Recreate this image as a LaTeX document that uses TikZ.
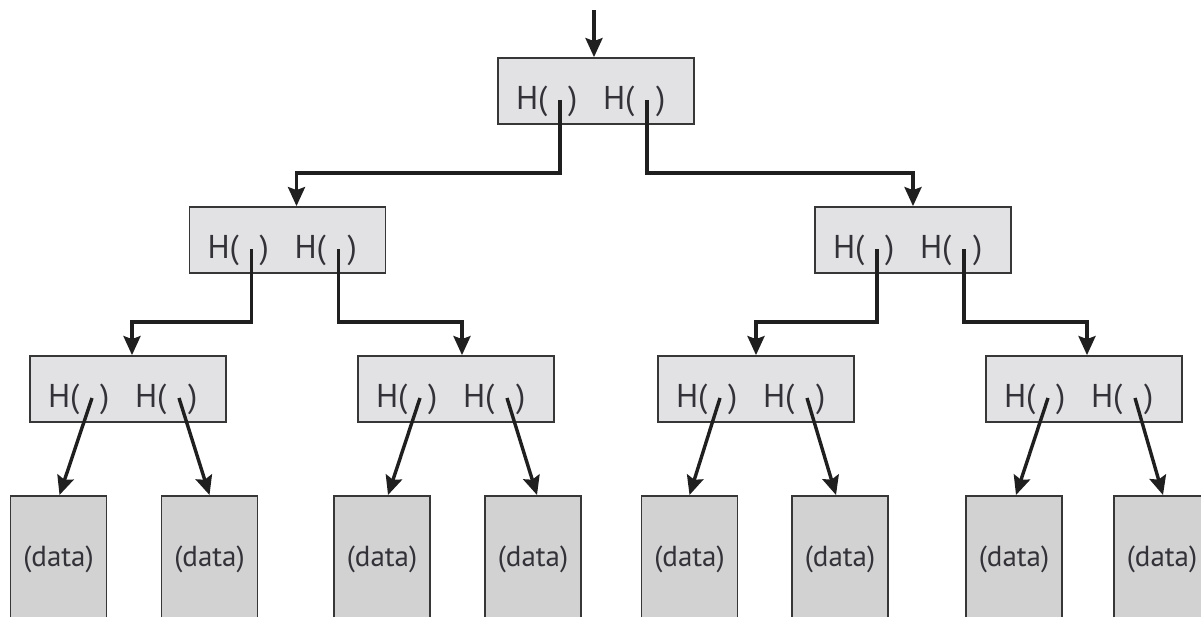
\documentclass[tikz,border=0pt]{standalone}
\usepackage{fontspec}
\setmainfont{PT Sans}
\usetikzlibrary{arrows.meta,calc}
\definecolor{lvlfill}{RGB}{226,226,228}
\definecolor{datfill}{RGB}{210,210,211}
\definecolor{edge}{RGB}{55,55,55}
\definecolor{ink}{RGB}{50,50,56}
\tikzset{
  hbox/.style={draw=edge, line width=1.8pt, fill=lvlfill, minimum width=196pt, minimum height=66pt, inner sep=0pt},
  dbox/.style={draw=edge, line width=1.8pt, fill=datfill, minimum width=96pt, minimum height=126pt, inner sep=0pt, anchor=north, font=\fontsize{29pt}{34pt}\selectfont, text=ink},
  txt/.style={inner sep=0pt, outer sep=0pt, font=\fontsize{33pt}{38pt}\selectfont, text=ink, anchor=base west},
  arr/.style={line width=3.4pt, draw=black!88, -{Stealth[length=19pt,width=17pt,inset=3pt]}}
}
\newcommand\hashnode[3]{%
  \node[hbox] (#1) at (#2,#3) {};
  \node[txt] (#1-ha) at (#2-80,#3+18) {H(};
  \node[txt] (#1-pa) at (#2-28,#3+18) {)};
  \node[txt] (#1-hb) at (#2+7,#3+18) {H(};
  \node[txt] (#1-pb) at (#2+60,#3+18) {)};
  \coordinate (#1-l) at (#2-36,#3+9);
  \coordinate (#1-r) at (#2+51,#3+9);
}
\begin{document}
\begin{tikzpicture}[x=1pt,y=-1pt]
\clip (0,0) rectangle (1201,616);
\fill[white] (0,0) rectangle (1201,616);
% hash nodes
\hashnode{R}{596}{91}
\hashnode{A}{287.5}{240}
\hashnode{B}{913}{240}
\hashnode{A1}{128}{389}
\hashnode{A2}{456}{389}
\hashnode{B1}{756}{389}
\hashnode{B2}{1084}{389}
% data nodes
\node[dbox] (D1) at (58.5,495) {(data)};
\node[dbox] (D2) at (209.5,495) {(data)};
\node[dbox] (D3) at (382,495) {(data)};
\node[dbox] (D4) at (533,495) {(data)};
\node[dbox] (D5) at (689.5,495) {(data)};
\node[dbox] (D6) at (840,495) {(data)};
\node[dbox] (D7) at (1014,495) {(data)};
\node[dbox] (D8) at (1162,495) {(data)};
% helper coordinates
\coordinate (top) at (594,10);
\coordinate (y1) at (0,173);
\coordinate (y2) at (0,322);
% connectors
\draw[arr] (top) -- ([xshift=-2pt]R.north);
\draw[arr] (R-l) -- (R-l |- y1) -| ([xshift=9pt]A.north);
\draw[arr] (R-r) -- (R-r |- y1) -| (B.north);
\draw[arr] (A-l) -- (A-l |- y2) -| ([xshift=4pt]A1.north);
\draw[arr] (A-r) -- (A-r |- y2) -| ([xshift=6pt]A2.north);
\draw[arr] (B-l) -- (B-l |- y2) -| (B1.north);
\draw[arr] (B-r) -- (B-r |- y2) -| ([xshift=3pt]B2.north);
\draw[arr] (A1-l) -- ([xshift=1pt]D1.north);
\draw[arr] (A1-r) -- (D2.north);
\draw[arr] (A2-l) -- ([xshift=6pt]D3.north);
\draw[arr] (A2-r) -- ([xshift=4pt]D4.north);
\draw[arr] (B1-l) -- (D5.north);
\draw[arr] (B1-r) -- ([xshift=-4pt]D6.north);
\draw[arr] (B2-l) -- ([xshift=2pt]D7.north);
\draw[arr] (B2-r) -- ([xshift=1pt]D8.north);
\end{tikzpicture}
\end{document}
